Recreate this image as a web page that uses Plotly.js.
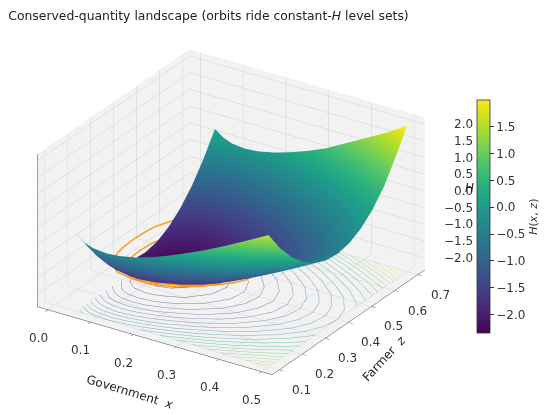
<!DOCTYPE html>
<html>
<head>
<meta charset="utf-8">
<script src="https://cdn.plot.ly/plotly-3.0.1.min.js"></script>
<style>html,body{margin:0;padding:0;background:#fff;}#chart{width:550px;height:415px;}</style>
</head>
<body>
<div id="chart"></div>
<script>
// Government x grid and Farmer z grid (surface domain)
var govX = [0.05, 0.07, 0.09, 0.12, 0.15, 0.19, 0.23, 0.27, 0.31, 0.35, 0.40, 0.45, 0.50];
var farmerZ = [0.10, 0.15, 0.20, 0.25, 0.30, 0.35, 0.40, 0.45, 0.50, 0.55, 0.60, 0.65, 0.70];
// H(x,z) values, one row per Farmer z value
var H = [
  [-0.05,-0.24,-0.33,-0.37,-0.34,-0.24,-0.08, 0.12, 0.34, 0.57, 0.89, 1.23, 1.58],
  [-0.67,-0.86,-0.95,-1.00,-0.97,-0.86,-0.70,-0.50,-0.29,-0.05, 0.27, 0.61, 0.95],
  [-1.18,-1.37,-1.46,-1.50,-1.47,-1.36,-1.20,-1.01,-0.79,-0.55,-0.24, 0.10, 0.45],
  [-1.56,-1.75,-1.85,-1.89,-1.86,-1.75,-1.59,-1.40,-1.18,-0.94,-0.62,-0.29, 0.06],
  [-1.83,-2.02,-2.12,-2.16,-2.13,-2.02,-1.86,-1.67,-1.45,-1.21,-0.89,-0.56,-0.21],
  [-1.99,-2.18,-2.27,-2.31,-2.28,-2.17,-2.01,-1.82,-1.60,-1.36,-1.05,-0.71,-0.36],
  [-2.02,-2.21,-2.31,-2.35,-2.32,-2.21,-2.05,-1.86,-1.64,-1.40,-1.08,-0.75,-0.40],
  [-1.94,-2.13,-2.22,-2.27,-2.24,-2.13,-1.97,-1.77,-1.55,-1.32,-1.00,-0.66,-0.32],
  [-1.74,-1.93,-2.02,-2.07,-2.04,-1.93,-1.77,-1.57,-1.36,-1.12,-0.80,-0.47,-0.12],
  [-1.42,-1.61,-1.71,-1.75,-1.72,-1.61,-1.45,-1.26,-1.04,-0.80,-0.48,-0.15, 0.20],
  [-0.99,-1.18,-1.27,-1.31,-1.28,-1.18,-1.02,-0.82,-0.60,-0.37,-0.05, 0.29, 0.66],
  [-0.43,-0.62,-0.72,-0.76,-0.73,-0.62,-0.46,-0.27,-0.05, 0.19, 0.53, 0.90, 1.30],
  [ 0.24, 0.05,-0.05,-0.09,-0.06, 0.05, 0.21, 0.40, 0.62, 0.90, 1.25, 1.60, 2.00]
];
// two orbits (constant-H level sets)
var orbitLevels = [-1.6, -1.9];
var orbit1X = [0.029,0.031,0.035,0.05,0.08,0.12,0.17,0.22,0.27,0.30,0.31,0.317,0.31,0.30,0.27,0.22,0.17,0.12,0.08,0.05,0.035,0.031,0.029];
var orbit1Z = [0.39,0.338,0.307,0.256,0.221,0.211,0.221,0.245,0.285,0.326,0.349,0.39,0.431,0.454,0.495,0.535,0.559,0.569,0.559,0.524,0.473,0.442,0.39];
var orbit2X = [0.042,0.045,0.05,0.07,0.10,0.14,0.19,0.23,0.25,0.261,0.25,0.23,0.19,0.14,0.10,0.07,0.05,0.045,0.042];
var orbit2Z = [0.39,0.343,0.318,0.275,0.254,0.254,0.275,0.310,0.340,0.39,0.440,0.470,0.505,0.526,0.526,0.505,0.462,0.437,0.39];
// levels of the contour lines projected on the floor
var contourLevels = [-2.2,-2.0,-1.8,-1.6,-1.4,-1.2,-1.0,-0.8,-0.6,-0.4,-0.2,0.0,0.2,0.4,0.6,0.8,1.0,1.2,1.4,1.6,1.8];
var xTicks = [0.0, 0.1, 0.2, 0.3, 0.4, 0.5];
var zTicks = [0.1, 0.2, 0.3, 0.4, 0.5, 0.6, 0.7];
var hTicks = [-2.0, -1.5, -1.0, -0.5, 0.0, 0.5, 1.0, 1.5, 2.0];
var cbTicks = [-2.0, -1.5, -1.0, -0.5, 0.0, 0.5, 1.0, 1.5];

var font = 'DejaVu Sans, Liberation Sans, sans-serif';
var xRange = [-0.025, 0.525], zRange = [0.07, 0.73], hRange = [-2.36, 2.2];
var cRange = [-2.35, 2.0];
var hiddenShift = -10; // contour-only copies sit below the box; only their floor projections show

function flat(n, v) { var a = []; for (var i = 0; i < n; i++) a.push(v); return a; }
function lbl(v) { return v.toFixed(1).replace('-', '\u2212'); }

var viridisStops = ['#440154','#48186a','#472d7b','#424086','#3b528b','#33638d','#2c728e','#26828e',
  '#21918c','#1fa088','#28ae80','#3fbc73','#5ec962','#84d44b','#addc30','#d8e219','#fde725'];
function hexRgb(h) { return [parseInt(h.substr(1,2),16), parseInt(h.substr(3,2),16), parseInt(h.substr(5,2),16)]; }
function viridisAt(t, lightenBy) {
  t = Math.max(0, Math.min(1, t));
  var p = t * (viridisStops.length - 1), i = Math.min(Math.floor(p), viridisStops.length - 2), f = p - i;
  var a = hexRgb(viridisStops[i]), b = hexRgb(viridisStops[i + 1]);
  var c = [0, 1, 2].map(function (k) { var v = a[k] + (b[k] - a[k]) * f; return Math.round(v + (244 - v) * lightenBy); });
  return 'rgb(' + c.join(',') + ')';
}

var traces = [];
traces.push({
  type: 'surface', x: govX, y: farmerZ, z: H,
  colorscale: 'Viridis', cmin: cRange[0], cmax: cRange[1],
  lighting: {ambient: 1, diffuse: 0, specular: 0, roughness: 1, fresnel: 0},
  hoverinfo: 'skip',
  colorbar: {
    x: 0.867, xanchor: 'left', xpad: 0, y: 0.478, yanchor: 'middle', ypad: 0,
    len: 0.561, thickness: 13, outlinewidth: 0.8, outlinecolor: '#333',
    tickvals: cbTicks, ticktext: cbTicks.map(lbl), ticks: 'outside', ticklen: 4, tickcolor: '#333',
    tickfont: {family: font, size: 12, color: '#333'},
    title: {text: '<i>H</i>(<i>x</i>, <i>z</i>)', side: 'right', font: {family: font, size: 11, color: '#333'}}
  }
});
var shiftedH = H.map(function (row) { return row.map(function (v) { return v + hiddenShift; }); });
var lmin = contourLevels[0], lmax = contourLevels[contourLevels.length - 1];
contourLevels.forEach(function (L) {
  traces.push({
    type: 'surface', x: govX, y: farmerZ, z: shiftedH,
    hidesurface: true, showscale: false, hoverinfo: 'skip',
    contours: {
      z: {show: true, usecolormap: false, color: viridisAt((L - lmin) / (lmax - lmin), 0.38),
          start: L + hiddenShift, end: L + hiddenShift + 0.05, size: 0.5, width: 1, project: {z: true}}
    }
  });
});
function orbit(xs, zs, level) {
  return {
    type: 'scatter3d', mode: 'lines', x: xs, y: zs, z: flat(xs.length, level - 0.05),
    line: {color: '#fa9a1e', width: 3}, showlegend: false, hoverinfo: 'skip'
  };
}
traces.push(orbit(orbit1X, orbit1Z, orbitLevels[0]));
traces.push(orbit(orbit2X, orbit2Z, orbitLevels[1]));

function axis(range, ticks, showTicks) {
  return {
    title: {text: ''}, range: range, tickvals: ticks, showticklabels: false,
    showbackground: true, backgroundcolor: 'rgb(242,242,242)',
    gridcolor: 'rgb(208,208,208)', gridwidth: 1, zeroline: false,
    showline: true, linecolor: '#444', linewidth: 1,
    ticks: showTicks ? 'outside' : '', ticklen: 5, tickcolor: '#444', showspikes: false
  };
}

var ann = [];
var tf = {family: font, size: 12, color: '#333'};
xTicks.forEach(function (v) {
  ann.push({x: v, y: zRange[0], z: hRange[0], text: lbl(v), showarrow: false, font: tf,
            xanchor: 'center', yanchor: 'middle', xshift: -10, yshift: -28});
});
zTicks.forEach(function (v) {
  ann.push({x: xRange[1], y: v, z: hRange[0], text: lbl(v), showarrow: false, font: tf,
            xanchor: 'center', yanchor: 'middle', xshift: 22, yshift: -20});
});
hTicks.forEach(function (v) {
  ann.push({x: xRange[1], y: zRange[1], z: v, text: lbl(v), showarrow: false, font: tf,
            xanchor: 'right', yanchor: 'middle', xshift: 50, yshift: 0});
});
ann.push({x: 0.25, y: zRange[0], z: hRange[0], text: 'Government  <i>x</i>', showarrow: false,
          font: {family: font, size: 12, color: '#222'}, textangle: 17, xshift: -25, yshift: -51});
ann.push({x: xRange[1], y: 0.40, z: hRange[0], text: 'Farmer  <i>z</i>', showarrow: false,
          font: {family: font, size: 12, color: '#222'}, textangle: -47, xshift: 36, yshift: -36});
ann.push({x: xRange[1], y: zRange[1], z: 0.1, text: '<i>H</i>', showarrow: false,
          font: {family: font, size: 12, color: '#222'}, xshift: 38, yshift: 0, xanchor: 'left'});

var layout = {
  width: 550, height: 415,
  margin: {l: 0, r: 0, t: 0, b: 0},
  paper_bgcolor: '#fff',
  showlegend: false,
  title: {text: 'Conserved-quantity landscape (orbits ride constant-<i>H</i> level sets)',
          x: 0.015, xanchor: 'left', y: 0.962, yanchor: 'middle',
          font: {family: font, size: 12.4, color: '#222'}},
  scene: {
    domain: {x: [0.015, 0.826], y: [0, 0.978]},
    aspectmode: 'manual', aspectratio: {x: 1.38, y: 1.38, z: 0.84},
    camera: {eye: {x: 0.687, y: -1.058, z: 0.629}, center: {x: 0, y: 0, z: 0}, projection: {type: 'orthographic'}},
    xaxis: axis(xRange, xTicks, true),
    yaxis: axis(zRange, zTicks, true),
    zaxis: axis(hRange, hTicks, false),
    annotations: ann
  }
};

Plotly.newPlot('chart', traces, layout, {displayModeBar: false});
</script>
</body>
</html>
